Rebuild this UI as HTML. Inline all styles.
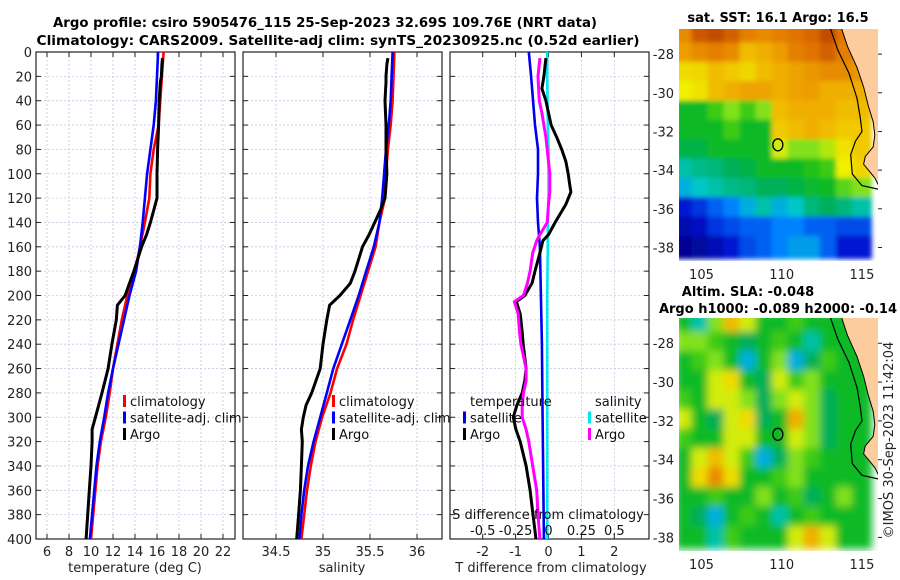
<!DOCTYPE html>
<html><head><meta charset="utf-8"><style>
html,body{margin:0;padding:0;background:#fff}
svg{display:block;font-family:"DejaVu Sans","Liberation Sans",sans-serif}
</style></head><body>
<svg id="fig" width="900" height="580" viewBox="0 0 900 580" xmlns="http://www.w3.org/2000/svg">
<defs>
<clipPath id="c1"><rect x="36" y="52" width="199" height="487"/></clipPath>
<clipPath id="c2"><rect x="243" y="52" width="199" height="487"/></clipPath>
<clipPath id="c3"><rect x="450" y="52" width="199" height="487"/></clipPath>
<clipPath id="cm1"><rect x="679" y="29" width="199" height="232"/></clipPath>
<clipPath id="cm2"><rect x="679" y="318" width="199" height="233"/></clipPath>
<filter id="blur1" x="-5%" y="-5%" width="110%" height="110%"><feGaussianBlur stdDeviation="2.5"/></filter>
<filter id="blur2" x="-5%" y="-5%" width="110%" height="110%"><feGaussianBlur stdDeviation="4"/></filter>
</defs>
<g font-weight="bold" font-size="13" fill="#000">
<text x="325" y="27" text-anchor="middle" textLength="544" lengthAdjust="spacingAndGlyphs">Argo profile: csiro 5905476_115 25-Sep-2023 32.69S 109.76E (NRT data)</text>
<text x="338" y="45" text-anchor="middle" textLength="603" lengthAdjust="spacingAndGlyphs">Climatology: CARS2009. Satellite-adj clim: synTS_20230925.nc (0.52d earlier)</text>
</g>
<g id="root"></g>
</svg>
<script>
// ---- profile data (depth in m) ----
const climDepth = [0,20,40,60,80,100,120,140,160,180,200,220,240,260,280,300,320,340,360,380,400];
const climTemp  = [16.6,16.45,16.3,16.15,15.7,15.4,15.3,14.9,14.45,14.0,13.3,12.8,12.4,12.0,11.7,11.35,10.9,10.6,10.4,10.2,10.0];
const satTemp   = [16.1,16.0,15.9,15.7,15.4,15.1,14.9,14.7,14.45,14.1,13.5,13.0,12.5,12.0,11.55,11.2,10.8,10.5,10.3,10.1,9.9];
const climSal   = [35.76,35.75,35.74,35.72,35.69,35.67,35.66,35.6,35.56,35.48,35.4,35.32,35.25,35.15,35.08,34.99,34.92,34.87,34.83,34.8,34.77];
const satSal    = [35.74,35.73,35.72,35.7,35.67,35.65,35.63,35.6,35.54,35.46,35.38,35.29,35.2,35.11,35.04,34.97,34.9,34.84,34.8,34.77,34.75];
const argoDepth = [5,10,20,25,40,60,80,100,120,130,140,150,160,180,190,200,208,220,240,260,280,290,300,310,320,340,360,380,400];
const argoTemp  = [16.5,16.45,16.4,16.3,16.2,16.15,16.05,16.0,16.0,15.7,15.4,15.05,14.6,13.9,13.5,13.1,12.4,12.3,11.9,11.55,11.0,10.7,10.4,10.1,10.1,10.0,9.85,9.7,9.55];
const argoSal   = [35.69,35.68,35.67,35.67,35.66,35.67,35.67,35.68,35.66,35.61,35.55,35.49,35.42,35.34,35.29,35.18,35.07,35.04,35.0,34.97,34.88,34.82,34.79,34.77,34.78,34.77,34.76,34.74,34.72];
// difference panel
const diffDepth = [5,20,30,40,50,60,70,80,90,100,110,115,125,140,150,155,165,180,190,200,205,215,230,240,260,270,280,290,300,310,320,340,360,380,400];
const argoTdiff = [-0.08,-0.14,-0.2,-0.08,0,0.08,0.25,0.4,0.53,0.6,0.65,0.68,0.53,0.2,0,-0.17,-0.26,-0.41,-0.5,-0.72,-0.98,-0.86,-0.8,-0.77,-0.68,-0.72,-0.8,-0.96,-1.07,-0.99,-0.86,-0.68,-0.56,-0.47,-0.38];
const argoSdiff = [-0.065,-0.08,-0.075,-0.07,-0.05,-0.035,-0.02,-0.01,0,0.01,0.01,0.01,0,-0.01,-0.065,-0.09,-0.12,-0.14,-0.16,-0.19,-0.26,-0.23,-0.22,-0.21,-0.17,-0.17,-0.19,-0.2,-0.2,-0.17,-0.15,-0.12,-0.09,-0.08,-0.065];
const satDiffDepth = [0,20,60,80,100,120,140,160,200,240,300,400];
const satTdiff = [-0.6,-0.53,-0.41,-0.32,-0.32,-0.35,-0.32,-0.26,-0.23,-0.2,-0.18,-0.14];
const satSdiff = [-0.01,-0.01,-0.005,0,0,0,-0.005,-0.005,-0.01,-0.01,-0.01,-0.01];
// ticks
const depthTicks = [0,20,40,60,80,100,120,140,160,180,200,220,240,260,280,300,320,340,360,380,400];
const tempTicks = [6,8,10,12,14,16,18,20,22];
const salTicks = [34.5,35,35.5,36];
const tdiffTicks = [-2,-1,0,1,2];
const sdiffTicks = [-0.5,-0.25,0,0.25,0.5];
const sdiffLabels = ["-0.5","-0.25","0","0.25","0.5"];
// maps: rows from -27 to -38 lat, cols lon 104..115
const mapLats = [-27,-28,-29,-30,-31,-32,-33,-34,-35,-36,-37,-38];
const mapLons = [104,105,106,107,108,109,110,111,112,113,114,115];
const sstGrid = [
[0.78,0.86,0.88,0.85,0.8,0.78,0.8,0.82,0.84,0.88,0.82,0.8],
[0.75,0.78,0.8,0.78,0.7,0.72,0.75,0.8,0.82,0.85,0.8,0.78],
[0.65,0.66,0.7,0.68,0.66,0.7,0.72,0.74,0.76,0.78,0.78,0.76],
[0.62,0.64,0.7,0.72,0.74,0.74,0.72,0.74,0.75,0.72,0.72,0.72],
[0.45,0.45,0.5,0.55,0.5,0.55,0.7,0.72,0.72,0.72,0.7,0.7],
[0.45,0.45,0.45,0.5,0.45,0.45,0.68,0.7,0.72,0.7,0.68,0.68],
[0.42,0.42,0.45,0.45,0.45,0.45,0.6,0.55,0.55,0.58,0.64,0.68],
[0.35,0.37,0.38,0.4,0.42,0.45,0.45,0.45,0.48,0.5,0.62,0.66],
[0.3,0.33,0.35,0.37,0.38,0.4,0.4,0.42,0.44,0.45,0.52,0.55],
[0.15,0.18,0.22,0.25,0.3,0.35,0.3,0.33,0.38,0.4,0.38,0.35],
[0.08,0.12,0.18,0.2,0.22,0.22,0.25,0.25,0.22,0.22,0.2,0.2],
[0.04,0.05,0.1,0.15,0.2,0.22,0.25,0.28,0.28,0.22,0.15,0.15]];
const slaGrid = [
[0.45,0.35,0.55,0.7,0.6,0.45,0.45,0.5,0.45,0.45,0.45,0.45],
[0.55,0.55,0.5,0.45,0.4,0.45,0.5,0.45,0.35,0.45,0.45,0.45],
[0.45,0.5,0.55,0.45,0.3,0.45,0.55,0.3,0.4,0.5,0.45,0.45],
[0.45,0.45,0.6,0.65,0.45,0.4,0.6,0.5,0.55,0.45,0.45,0.45],
[0.5,0.45,0.6,0.6,0.55,0.4,0.55,0.6,0.55,0.4,0.45,0.45],
[0.6,0.45,0.4,0.6,0.65,0.4,0.45,0.72,0.55,0.4,0.45,0.45],
[0.5,0.45,0.45,0.6,0.6,0.45,0.45,0.6,0.55,0.4,0.45,0.45],
[0.45,0.6,0.7,0.6,0.5,0.3,0.4,0.55,0.5,0.45,0.45,0.45],
[0.45,0.65,0.78,0.65,0.45,0.45,0.5,0.55,0.45,0.45,0.45,0.45],
[0.45,0.45,0.5,0.45,0.45,0.55,0.45,0.5,0.4,0.45,0.55,0.45],
[0.45,0.4,0.3,0.45,0.5,0.45,0.35,0.45,0.5,0.45,0.45,0.45],
[0.45,0.45,0.35,0.5,0.45,0.45,0.45,0.6,0.72,0.6,0.45,0.45]];
const latTicks = [-28,-30,-32,-34,-36,-38];
const lonTicks = [105,110,115];
const argoLon = 109.76, argoLat = -32.69;
const landLon = [113.7,114.1,114.7,115.1,115.4,115.7,115.8,115.7,115.2,115.1,115.4,115.8,116.1,116.1];
const landLat = [-26.6,-27.6,-28.7,-29.7,-30.7,-31.5,-32.2,-32.8,-33.3,-33.7,-34.0,-34.4,-34.9,-26.6];
const shelfLon = [113.0,113.5,114.2,114.7,114.9,115.0,114.6,114.3,114.4,115.0,116.1];
const shelfLat = [-26.6,-27.8,-29.0,-30.3,-31.3,-32.0,-32.5,-33.2,-34.2,-34.8,-35.0];

const NS='http://www.w3.org/2000/svg';
const root=document.getElementById('root');
function mk(tag,attrs,parent){const e=document.createElementNS(NS,tag);for(const k in attrs)e.setAttribute(k,attrs[k]);(parent||root).appendChild(e);return e;}
function txt(x,y,s,attrs,parent){const e=mk('text',Object.assign({x:x,y:y},attrs||{}),parent);e.textContent=s;return e;}
const Y0=52, DY=487/400;
const yD=d=>Y0+d*DY;
const xT=t=>36+(t-5)*11;
const xS=s=>323+(s-35)*94;
const xDT=t=>548.5+t*32.9;
const xDS=s=>548.5+s*131.6;

function panel(name,x0,clip,ticks,xf,labels,showDepth){
  const g=mk('g',{});
  
  
  depthTicks.forEach(d=>{mk('line',{x1:x0,x2:x0+199,y1:yD(d),y2:yD(d),stroke:'#c4c8e4','stroke-width':0.8,'stroke-dasharray':'2,2'},g);});
  ticks.forEach(t=>{mk('line',{x1:xf(t),x2:xf(t),y1:Y0,y2:Y0+487,stroke:'#c4c8e4','stroke-width':0.8,'stroke-dasharray':'2,2'},g);});
  depthTicks.forEach(d=>{mk('line',{x1:x0,x2:x0+5,y1:yD(d),y2:yD(d),stroke:'#222'},g);mk('line',{x1:x0+194,x2:x0+199,y1:yD(d),y2:yD(d),stroke:'#222'},g);});
  ticks.forEach(t=>{mk('line',{x1:xf(t),x2:xf(t),y1:Y0,y2:Y0+5,stroke:'#222'},g);mk('line',{x1:xf(t),x2:xf(t),y1:Y0+482,y2:Y0+487,stroke:'#222'},g);});
  if(showDepth){depthTicks.forEach(d=>{const t=txt(32,yD(d)+5,String(d),{'text-anchor':'end','font-size':13,fill:'#222'},g);});}
  if(labels){ticks.forEach((t,i)=>{const e=txt(xf(t),556,labels[i],{'text-anchor':'middle','font-size':13,fill:'#222'},g);});}
  const fr=mk('rect',{x:x0,y:Y0,width:199,height:487,fill:'none',stroke:'#222','stroke-width':1.2},g);
  
  
  return g;
}
function line(g,clip,xs,ds,xf,color,name,w){
  const pts=xs.map((v,i)=>xf(v).toFixed(1)+','+yD(ds[i]).toFixed(1)).join(' ');
  const p=mk('polyline',{points:pts,fill:'none',stroke:color,'stroke-width':w||2.6,'stroke-linejoin':'round','clip-path':'url(#'+clip+')'},g);
  
  
}
function legend(g,x,items,y0){
  items.forEach((it,i)=>{
    const y=(y0||401)+i*16.5;
    if(it[1]){const r=mk('rect',{x:x,y:y-6,width:3,height:12,fill:it[1]},g);}
    const t=txt(x+7,y+5,it[0],{'font-size':13,fill:'#111'},g);
    
    
  });
}
const g1=panel('temperature-panel',36,'c1',tempTicks,xT,tempTicks.map(String),true);
line(g1,'c1',climTemp,climDepth,xT,'#ff0000','climatology-temp-line');
line(g1,'c1',satTemp,climDepth,xT,'#0000ff','satellite-temp-line');
line(g1,'c1',argoTemp,argoDepth,xT,'#000000','argo-temp-line',3);
legend(g1,123,[['climatology','#ff0000'],['satellite-adj. clim','#0000ff'],['Argo','#000']]);
const xl1=txt(135,572,'temperature (deg C)',{'text-anchor':'middle','font-size':13,fill:'#222'},g1);


const g2=panel('salinity-panel',243,'c2',salTicks,xS,salTicks.map(String),false);
line(g2,'c2',climSal,climDepth,xS,'#ff0000','climatology-sal-line');
line(g2,'c2',satSal,climDepth,xS,'#0000ff','satellite-sal-line');
line(g2,'c2',argoSal,argoDepth,xS,'#000000','argo-sal-line',3);
legend(g2,332,[['climatology','#ff0000'],['satellite-adj. clim','#0000ff'],['Argo','#000']]);
const xl2=txt(342,572,'salinity',{'text-anchor':'middle','font-size':13,fill:'#222'},g2);


const g3=panel('difference-panel',450,'c3',tdiffTicks,xDT,tdiffTicks.map(String),false);
line(g3,'c3',satTdiff,satDiffDepth,xDT,'#0000ee','satellite-tdiff-line');
line(g3,'c3',satSdiff,satDiffDepth,xDS,'#00e8f0','satellite-sdiff-line');
line(g3,'c3',argoTdiff,diffDepth,xDT,'#000000','argo-tdiff-line',3);
line(g3,'c3',argoSdiff,diffDepth,xDS,'#ff00ff','argo-sdiff-line',3);
legend(g3,463,[['temperature',null],['satellite','#0000ee'],['Argo','#000']]);
legend(g3,588,[['salinity',null],['satellite','#00e8f0'],['Argo','#ff00ff']]);
const st=txt(548,519,'S difference from climatology',{'text-anchor':'middle','font-size':13,fill:'#111'},g3);


sdiffTicks.forEach((s,i)=>{const e=txt(xDS(s),535,sdiffLabels[i],{'text-anchor':'middle','font-size':13,fill:'#111'},g3);});
const xl3=txt(551,572,'T difference from climatology',{'text-anchor':'middle','font-size':13,fill:'#222'},g3);



const stops=[[0,[0,0,128]],[0.15,[0,20,210]],[0.25,[0,130,255]],[0.33,[0,200,200]],[0.4,[0,175,90]],[0.47,[20,190,20]],[0.55,[130,225,30]],[0.62,[240,240,0]],[0.72,[240,175,0]],[0.82,[225,115,0]],[0.92,[175,50,0]],[1,[140,20,0]]];
function cmap(v){for(let i=1;i<stops.length;i++){if(v<=stops[i][0]){const a=stops[i-1],b=stops[i];const f=(v-a[0])/(b[0]-a[0]);const c=a[1].map((q,k)=>Math.round(q+(b[1][k]-q)*f));return 'rgb('+c.join(',')+')';}}return 'rgb(140,20,0)';}
function mapPanel(name,grid,top,bot,clip,blur,titleLines){
  const g=mk('g',{});
  
  
  const left=679,right=878,lon0=103.6,lon1=116.0;
  const pxLat=(bot-top)/12.0;
  const yL=la=>top+(-26.7-la)*pxLat;
  const xL=lo=>left+(lo-lon0)*(right-left)/(lon1-lon0);
  const cg=mk('g',{'clip-path':'url(#'+clip+')'},g);
  const bg=mk('g',{filter:'url(#'+blur+')'},cg);
  grid.forEach((row,r)=>row.forEach((v,c)=>{
    const cell=mk('rect',{x:(xL(mapLons[c]-0.5)-2).toFixed(1),y:(yL(mapLats[r]+0.5)-2).toFixed(1),width:(xL(1)-xL(0)+4).toFixed(1),height:(pxLat+4).toFixed(1),fill:cmap(v)},bg);
    
    
  }));
  const land=mk('polygon',{points:landLon.map((lo,i)=>xL(lo).toFixed(1)+','+yL(landLat[i]).toFixed(1)).join(' '),fill:'#fdcc9c',stroke:'#000','stroke-width':1},cg);
  
  
  const shelf=mk('polyline',{points:shelfLon.map((lo,i)=>xL(lo).toFixed(1)+','+yL(shelfLat[i]).toFixed(1)).join(' '),fill:'none',stroke:'#000','stroke-width':1.2},cg);
  
  
  const m=mk('ellipse',{cx:xL(argoLon),cy:yL(argoLat),rx:5,ry:6,fill:'none',stroke:'#000','stroke-width':1.3},g);
  
  
  latTicks.forEach(la=>{const e=txt(674,yL(la)+5,String(la),{'text-anchor':'end','font-size':13,fill:'#222'},g);
    mk('line',{x1:right,x2:right+4,y1:yL(la),y2:yL(la),stroke:'#222'},g);});
  lonTicks.forEach(lo=>{const e=txt(xL(lo),bot+18,String(lo),{'text-anchor':'middle','font-size':13,fill:'#222'},g);});
  titleLines.forEach(t=>{const e=txt(t[0],t[1],t[2],{'text-anchor':'middle','font-size':13,'font-weight':'bold',fill:'#000'},g);});
}
mapPanel('sst-map',sstGrid,29,261,'cm1','blur1',[[778,22,'sat. SST: 16.1 Argo: 16.5']]);
mapPanel('sla-map',slaGrid,318,551,'cm2','blur2',[[748,296,'Altim. SLA: -0.048'],[778,313,'Argo h1000: -0.089 h2000: -0.14']]);
const cr=txt(0,0,'©IMOS 30-Sep-2023 11:42:04',{'font-size':13,fill:'#222','text-anchor':'middle',transform:'translate(893,440) rotate(-90)'});


</script>
</body></html>
